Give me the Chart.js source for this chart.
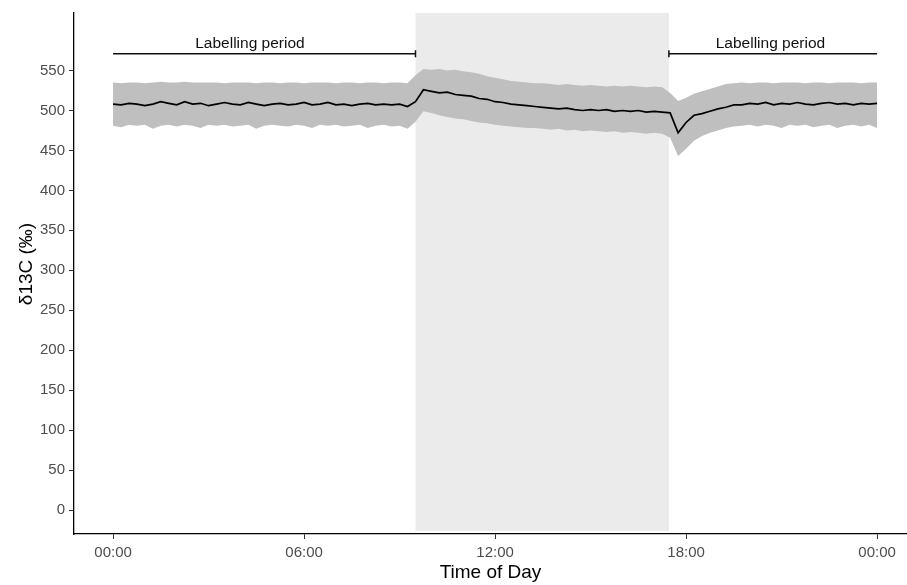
<!DOCTYPE html>
<html>
<head>
<meta charset="utf-8">
<title>δ13C over the day</title>
<script src="https://cdn.jsdelivr.net/npm/chart.js@4.4.1/dist/chart.umd.min.js"></script>
<style>
  html, body { margin: 0; padding: 0; background: #fff; overflow: hidden; }
  #wrap { position: relative; width: 907px; height: 585px; }
</style>
</head>
<body>
<div id="wrap"><canvas id="myChart"></canvas></div>
<script>
// samples every 15 minutes, 00:00 -> 24:00
const stepHours = 0.25;

const meanValues = [
  508, 507, 509, 508, 506, 508, 511, 509,
  507, 511, 508, 509, 506, 508, 510, 508,
  507, 510, 508, 506, 508, 509, 507, 508,
  510, 507, 508, 510, 507, 508, 506, 508,
  509, 507, 508, 507, 508, 505,
  511, 526, 524, 522, 523, 520, 519, 518,
  515, 514, 511, 510, 508, 507, 506, 505,
  504, 503, 502, 503, 501, 500, 501, 500,
  501, 499, 500, 499, 500, 498, 499, 498,
  497, 472, 485, 494, 496, 499, 502, 504,
  507, 507, 509, 508, 510, 507, 509, 508,
  510, 508, 507, 509, 510, 508, 509, 507,
  509, 508, 509
];

const upperValues = [
  535, 534, 535, 535, 534, 535, 536, 535,
  535, 536, 535, 535, 535, 535, 534, 535,
  535, 535, 534, 535, 535, 534, 535, 535,
  534, 535, 535, 535, 534, 535, 535, 534,
  535, 535, 534, 535, 535, 534,
  544, 552, 551, 552, 550, 551, 549, 548,
  546, 543, 541, 539, 537, 536, 535, 534,
  534, 533, 532, 533, 532, 531, 532, 531,
  530, 531, 530, 531, 530, 529, 530, 529,
  522, 512, 516, 521, 524, 527, 530, 533,
  534, 535, 534, 535, 535, 534, 535, 535,
  535, 534, 535, 535, 534, 535, 535, 535,
  534, 535, 535
];

const lowerValues = [
  481, 479, 482, 481, 482, 477, 481, 482,
  480, 482, 481, 478, 482, 481, 482, 480,
  481, 482, 477, 481, 482, 481, 480, 482,
  481, 478, 482, 481, 482, 480, 481, 482,
  478, 481, 482, 480, 481, 477,
  486, 499, 497, 494, 492, 490, 489, 487,
  485, 484, 482, 481, 480, 479, 478, 478,
  477, 476, 477, 475, 476, 474, 475, 474,
  473, 474, 472, 473, 472, 471, 472, 471,
  466, 443, 452, 462, 468, 472, 475, 478,
  480, 481, 482, 480, 482, 481, 478, 482,
  481, 482, 479, 481, 482, 478, 481, 482,
  480, 482, 478
];

const xTickHours = [0, 6, 12, 18, 24];
const xTickLabels = ['00:00', '06:00', '12:00', '18:00', '00:00'];
const yTicks = [0, 50, 100, 150, 200, 250, 300, 350, 400, 450, 500, 550];

// unlabelled (dark) period and the two labelling bars above the data
const darkPeriod = [9.5, 17.46];
const labelPeriods = [[0, 9.5], [17.46, 24]];
const labelBarLevel = 571;
const labelTexts = ['Labelling period', 'Labelling period'];
const labelTextHours = [4.3, 20.65];
const labelTextLevel = 583;

const times = meanValues.map((_, i) => i * stepHours);
const toPoints = (vals) => vals.map((v, i) => ({ x: times[i], y: v }));

const fontFamily = "'Liberation Sans', Arial, sans-serif";

// grey box behind the data for the dark period
const shadePlugin = {
  id: 'shade',
  beforeDatasetsDraw(chart) {
    const { ctx, chartArea, scales } = chart;
    const x0 = scales.x.getPixelForValue(darkPeriod[0]);
    const x1 = scales.x.getPixelForValue(darkPeriod[1]);
    ctx.save();
    ctx.fillStyle = '#ebebeb';
    ctx.fillRect(x0, chartArea.top, x1 - x0, chartArea.bottom - chartArea.top - 3);
    ctx.restore();
  },
};

// "Labelling period" captions and the y axis title
const captionPlugin = {
  id: 'captions',
  afterDatasetsDraw(chart) {
    const { ctx, scales } = chart;
    ctx.save();
    ctx.fillStyle = '#111';
    ctx.font = '15.5px ' + fontFamily;
    ctx.textAlign = 'center';
    ctx.textBaseline = 'middle';
    labelTexts.forEach((txt, i) => {
      ctx.fillText(txt, scales.x.getPixelForValue(labelTextHours[i]), scales.y.getPixelForValue(labelTextLevel));
    });
    ctx.restore();
  },
  afterDraw(chart) {
    const { ctx } = chart;
    ctx.save();
    ctx.translate(27, 264);
    ctx.rotate(-Math.PI / 2);
    ctx.fillStyle = '#000';
    ctx.font = '19px ' + fontFamily;
    ctx.textAlign = 'center';
    ctx.textBaseline = 'middle';
    ctx.fillText('δ13C (‰)', 0, 0);
    ctx.restore();
  },
};

const barDataset = (period, capAt) => ({
  data: period.map((h) => ({ x: h, y: labelBarLevel })),
  order: 0,
  borderColor: '#111',
  borderWidth: 1.5,
  pointStyle: 'line',
  pointRotation: 90,
  pointRadius: period.map((h) => (h === capAt ? 3.5 : 0)),
  pointBorderColor: '#111',
  pointBorderWidth: 1.5,
  fill: false,
});

const ctx = document.getElementById('myChart').getContext('2d');
new Chart(ctx, {
  type: 'line',
  data: {
    datasets: [
      { data: toPoints(lowerValues), order: 3, borderWidth: 0, pointRadius: 0, fill: false },
      { data: toPoints(upperValues), order: 2, borderWidth: 0, pointRadius: 0, fill: '-1', backgroundColor: '#bfbfbf' },
      { data: toPoints(meanValues), order: 1, borderColor: '#000', borderWidth: 1.7, pointRadius: 0, fill: false },
      barDataset(labelPeriods[0], labelPeriods[0][1]),
      barDataset(labelPeriods[1], labelPeriods[1][0]),
    ],
  },
  options: {
    responsive: true,
    maintainAspectRatio: false,
    animation: false,
    devicePixelRatio: 1,
    layout: { autoPadding: false, padding: { top: 12, right: 0, bottom: 0, left: 0 } },
    plugins: { legend: { display: false }, tooltip: { enabled: false } },
    scales: {
      x: {
        type: 'linear',
        min: -1.227,
        max: 24.94,
        afterBuildTicks: (s) => { s.ticks = xTickHours.map((v) => ({ value: v })); },
        afterFit: (s) => { s.height = 51; s.paddingRight = 0; s.paddingLeft = 0; },
        ticks: {
          autoSkip: false,
          maxRotation: 0,
          color: '#4d4d4d',
          padding: 5,
          font: { family: fontFamily, size: 15 },
          callback: (v, i) => xTickLabels[i],
        },
        grid: { drawOnChartArea: false, drawTicks: true, tickLength: 5, color: '#333' },
        border: { display: true, color: '#000', width: 1.3 },
        title: {
          display: true,
          text: 'Time of Day',
          color: '#000',
          font: { family: fontFamily, size: 19 },
          padding: { top: 0, bottom: 1 },
        },
      },
      y: {
        min: -30,
        max: 622,
        afterBuildTicks: (s) => { s.ticks = yTicks.map((v) => ({ value: v })); },
        afterFit: (s) => { s.width = 74; },
        ticks: {
          color: '#4d4d4d',
          padding: 4,
          font: { family: fontFamily, size: 15 },
        },
        grid: { drawOnChartArea: false, drawTicks: true, tickLength: 5, color: '#333' },
        border: { display: true, color: '#000', width: 1.3 },
        title: { display: false },
      },
    },
  },
  plugins: [shadePlugin, captionPlugin],
});
</script>
</body>
</html>
